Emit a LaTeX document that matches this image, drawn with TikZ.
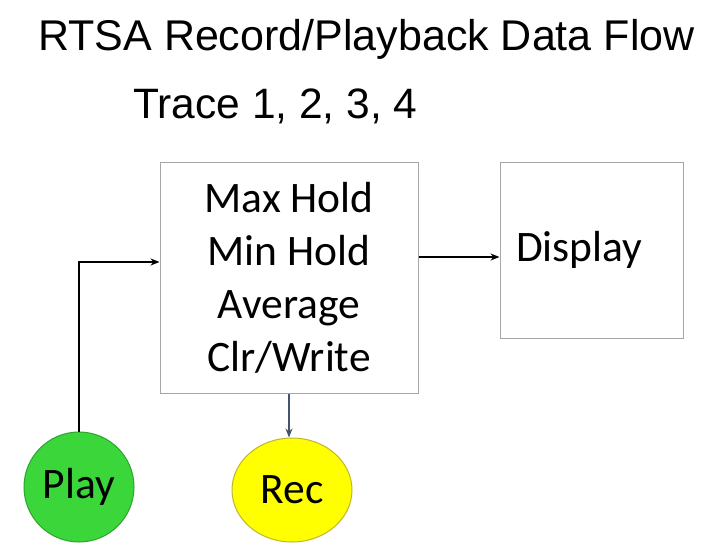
\documentclass[tikz,border=0pt]{standalone}
\usepackage{fontspec}
\usepackage{xcolor}
\usepackage{tikz}
\usetikzlibrary{arrows.meta,shapes.geometric}
\setmainfont{Liberation Sans}
\newfontfamily\boxfont{Carlito}
\definecolor{boxgray}{HTML}{A6A6A6}
\definecolor{playgreen}{HTML}{3AD63A}
\definecolor{playedge}{HTML}{2FA32F}
\definecolor{recyellow}{HTML}{FFFF00}
\definecolor{recedge}{HTML}{BFB52A}
\definecolor{arrowblue}{HTML}{44546A}
\tikzset{every node/.append style={inner sep=0pt}}
\begin{document}
\begin{tikzpicture}[x=1pt,y=-1pt,>=Stealth]
  \useasboundingbox (0,0) rectangle (702,542);
  \tikzset{
    flowbox/.style={draw=boxgray,line width=1pt,font=\boxfont\fontsize{43.5}{53}\selectfont,align=center},
    flowline/.style={->,line width=1.5pt,>={Stealth[length=9pt,width=7pt]}}
  }
  \node[anchor=base west,font=\fontsize{43}{50}\selectfont] (title) at (38,50) {RTSA Record/Playback Data Flow};
  \node[anchor=base west,font=\fontsize{42.5}{50}\selectfont] (trace) at (133,118) {Trace 1, 2, 3, 4};
  \node[flowbox,minimum width=258,minimum height=231] (hold) at (289,277.5)
    {Max Hold\\Min Hold\\Average\\Clr/Write};
  \node[flowbox,minimum width=183,minimum height=176,text width=151,align=left] (disp) at (591.5,250) {Display};
  \node[draw=playedge,fill=playgreen,ellipse,line width=1pt,minimum width=110,minimum height=110,
    font=\boxfont\fontsize{43.5}{53}\selectfont] (play) at (79,487) {Play};
  \node[draw=recedge,fill=recyellow,ellipse,line width=1pt,minimum width=120,minimum height=104,
    font=\boxfont\fontsize{43.5}{53}\selectfont] (rec) at (292,490) {Rec};
  \coordinate (dispin) at ([yshift=-7pt]disp.west);
  \draw[flowline] (hold.east |- dispin) -- (dispin);
  \draw[flowline] (play.north) |- ([yshift=15.5pt]hold.west);
  \draw[flowline,arrowblue] (hold.south) -- (hold.south |- rec.north);
\end{tikzpicture}
\end{document}
